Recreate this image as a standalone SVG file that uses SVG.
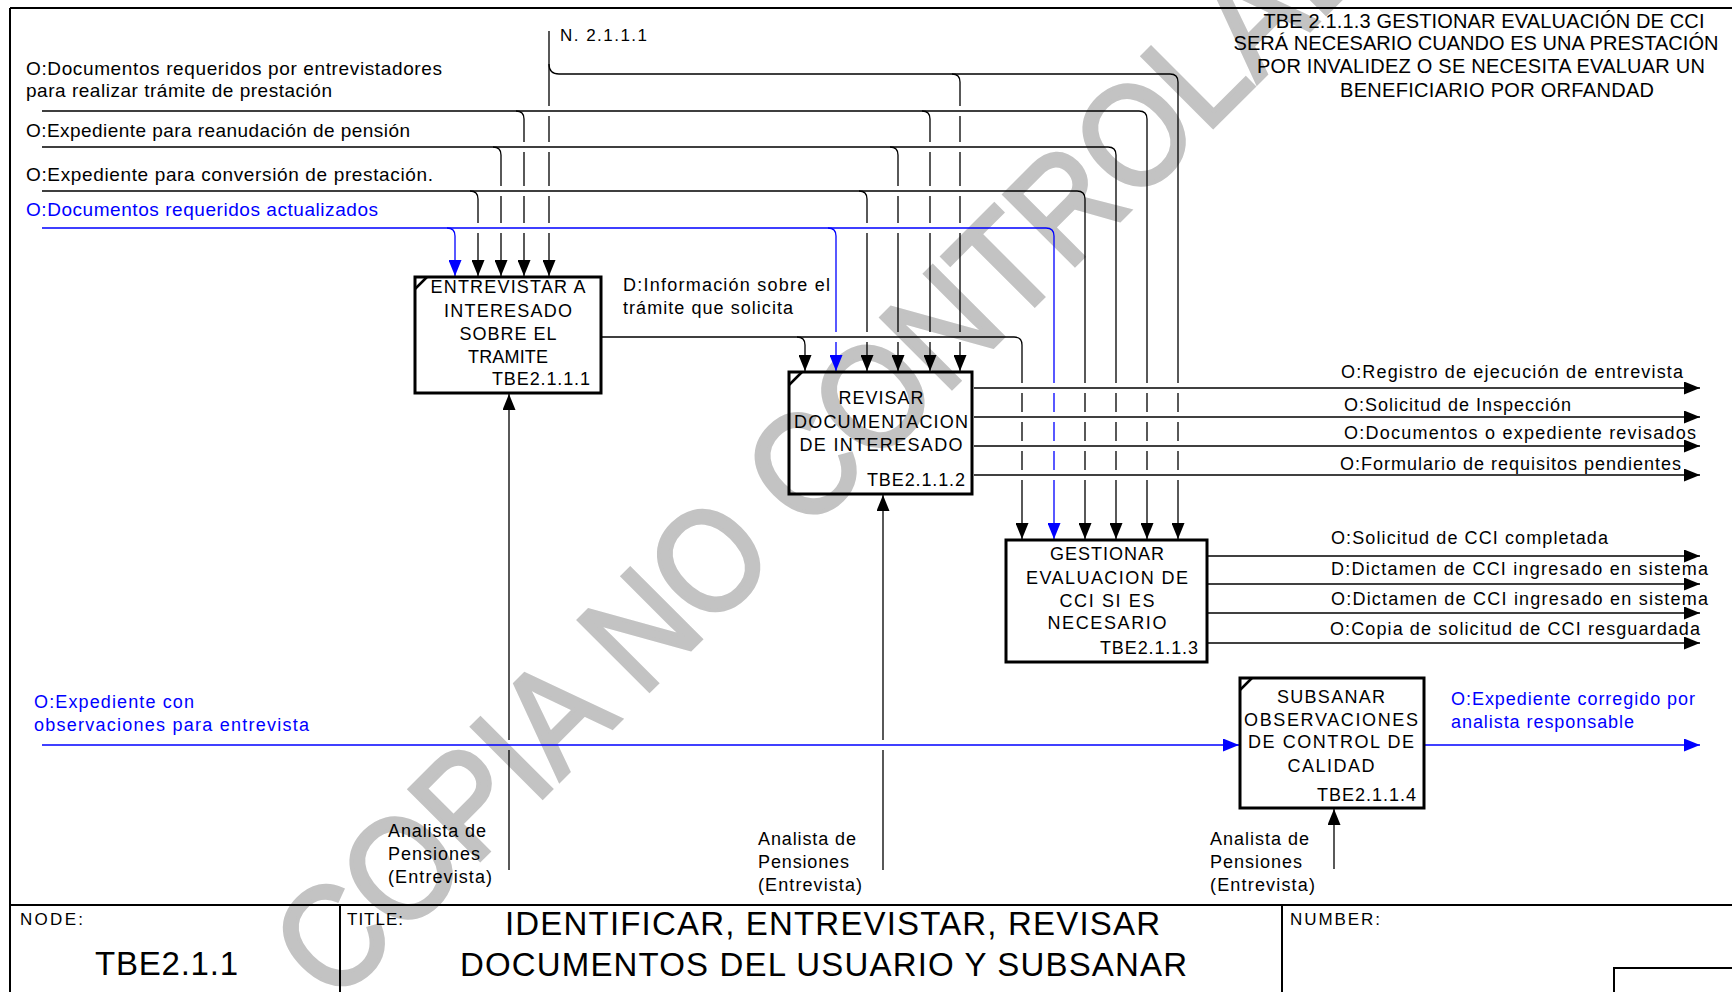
<svg xmlns="http://www.w3.org/2000/svg" width="1732" height="992" viewBox="0 0 1732 992">
<defs>
<style>
text{font-family:"Liberation Sans",Arial,sans-serif;fill:#000;lengthAdjust:spacing}
.lbl{font-size:19px}
.ol{font-size:18px}
.bx{font-size:18px;text-anchor:middle}
.bxr{font-size:18px;text-anchor:end}
.mech{font-size:18px}
.blue{fill:#0000ff}
.note{font-size:20px;text-anchor:middle}
.tb{font-size:17px}
.big{font-size:33px}
.wm{font-size:145px;fill:#c3c3c3;stroke:#c3c3c3;stroke-width:4}
.c{fill:none;stroke:#000;stroke-width:1.3}
.cb{fill:none;stroke:#0000ff;stroke-width:1.3}
.box{fill:none;stroke:#000;stroke-width:3}
.tick{stroke:#000;stroke-width:2.5}
.frame{fill:none;stroke:#000;stroke-width:2}
</style>
<marker id="ah" markerUnits="userSpaceOnUse" markerWidth="16" markerHeight="13" viewBox="0 0 16 13" refX="16" refY="6.5" orient="auto"><path d="M0,0 L16,6.5 L0,13 z" fill="#000"/></marker>
<marker id="ahb" markerUnits="userSpaceOnUse" markerWidth="16" markerHeight="13" viewBox="0 0 16 13" refX="16" refY="6.5" orient="auto"><path d="M0,0 L16,6.5 L0,13 z" fill="#0000ff"/></marker>
</defs>
<rect width="1732" height="992" fill="#fff"/>
<text class="wm" x="0" y="0" transform="translate(334 1006) rotate(-45) scale(0.9 1)">COPIA NO CONTROLADA</text>

<g id="frame">
<path class="frame" d="M10,8 H1732 M10,8 V992"/>
<path class="frame" d="M10,905 H1732 M340,905 V992 M1282,905 V992" stroke-width="1.5"/>
<rect class="frame" x="1614" y="968" width="200" height="60" stroke-width="1.5"/>
<text class="tb" x="20" y="925" textLength="63">NODE:</text>
<text class="big" x="95" y="975" font-size="32" textLength="143">TBE2.1.1</text>
<text class="tb" x="347" y="925" textLength="56">TITLE:</text>
<text class="big" x="505" y="935" textLength="655">IDENTIFICAR, ENTREVISTAR, REVISAR</text>
<text class="big" x="460" y="976" textLength="727">DOCUMENTOS DEL USUARIO Y SUBSANAR</text>
<text class="tb" x="1290" y="925" textLength="90">NUMBER:</text>
</g>

<g id="note">
<text class="note" x="1484" y="28" textLength="441">TBE 2.1.1.3 GESTIONAR EVALUACIÓN DE CCI</text>
<text class="note" x="1476" y="50" textLength="485">SERÁ NECESARIO CUANDO ES UNA PRESTACIÓN</text>
<text class="note" x="1481" y="73" textLength="448">POR INVALIDEZ O SE NECESITA EVALUAR UN</text>
<text class="note" x="1497" y="97" textLength="314">BENEFICIARIO POR ORFANDAD</text>
</g>

<g id="connectors">
<!-- N. 2.1.1.1 -->
<path class="c" marker-end="url(#ah)" d="M549,31 V106 M549,116 V142 M549,152 V186 M549,196 V223 M549,233 V276"/>
<path class="c" marker-end="url(#ah)" d="M549,64 Q549,74 559,74 H1170 Q1178,74 1178,82 V383 M1178,393 V412 M1178,422 V441 M1178,451 V470 M1178,480 V539"/>
<path class="c" marker-end="url(#ah)" d="M952,74 Q960,74 960,82 V106 M960,116 V142 M960,152 V186 M960,196 V223 M960,233 V332 M960,342 V371"/>
<!-- L1 -->
<path class="c" marker-end="url(#ah)" d="M42,111 H1139 Q1147,111 1147,119 V383 M1147,393 V412 M1147,422 V441 M1147,451 V470 M1147,480 V539"/>
<path class="c" marker-end="url(#ah)" d="M516,111 Q524,111 524,119 V142 M524,152 V186 M524,196 V223 M524,233 V276"/>
<path class="c" marker-end="url(#ah)" d="M922,111 Q930,111 930,119 V142 M930,152 V186 M930,196 V223 M930,233 V332 M930,342 V371"/>
<!-- L2 -->
<path class="c" marker-end="url(#ah)" d="M42,147 H1108 Q1116,147 1116,155 V383 M1116,393 V412 M1116,422 V441 M1116,451 V470 M1116,480 V539"/>
<path class="c" marker-end="url(#ah)" d="M493,147 Q501,147 501,155 V186 M501,196 V223 M501,233 V276"/>
<path class="c" marker-end="url(#ah)" d="M890,147 Q898,147 898,155 V186 M898,196 V223 M898,233 V332 M898,342 V371"/>
<!-- L3 -->
<path class="c" marker-end="url(#ah)" d="M42,191 H1077 Q1085,191 1085,199 V383 M1085,393 V412 M1085,422 V441 M1085,451 V470 M1085,480 V539"/>
<path class="c" marker-end="url(#ah)" d="M470,191 Q478,191 478,199 V223 M478,233 V276"/>
<path class="c" marker-end="url(#ah)" d="M859,191 Q867,191 867,199 V223 M867,233 V332 M867,342 V371"/>
<!-- L4 blue -->
<path class="cb" marker-end="url(#ahb)" d="M42,228 H1046 Q1054,228 1054,236 V383 M1054,393 V412 M1054,422 V441 M1054,451 V470 M1054,480 V539"/>
<path class="cb" marker-end="url(#ahb)" d="M447,228 Q455,228 455,236 V276"/>
<path class="cb" marker-end="url(#ahb)" d="M828,228 Q836,228 836,236 V332 M836,342 V371"/>
<!-- D line -->
<path class="c" marker-end="url(#ah)" d="M602,337 H1014 Q1022,337 1022,345 V383 M1022,393 V412 M1022,422 V441 M1022,451 V470 M1022,480 V539"/>
<path class="c" marker-end="url(#ah)" d="M797,337 Q805,337 805,345 V371"/>
<!-- box2 outputs -->
<path class="c" marker-end="url(#ah)" d="M974,388 H1700"/>
<path class="c" marker-end="url(#ah)" d="M974,417 H1700"/>
<path class="c" marker-end="url(#ah)" d="M974,446 H1700"/>
<path class="c" marker-end="url(#ah)" d="M974,475 H1700"/>
<!-- box3 outputs -->
<path class="c" marker-end="url(#ah)" d="M1208,556 H1700"/>
<path class="c" marker-end="url(#ah)" d="M1208,584 H1700"/>
<path class="c" marker-end="url(#ah)" d="M1208,613 H1700"/>
<path class="c" marker-end="url(#ah)" d="M1208,643 H1700"/>
<!-- blue line to box4 -->
<path class="cb" stroke-width="2" marker-end="url(#ahb)" d="M42,745 H1239"/>
<path class="cb" stroke-width="2" marker-end="url(#ahb)" d="M1425,745 H1700"/>
<!-- mechanisms -->
<path class="c" marker-end="url(#ah)" d="M509,870 V750 M509,740 V394"/>
<path class="c" marker-end="url(#ah)" d="M883,870 V750 M883,740 V495"/>
<path class="c" marker-end="url(#ah)" d="M1334,869 V809"/>
</g>

<g id="labels">
<text x="560" y="41" font-size="17" textLength="87">N. 2.1.1.1</text>
<text class="lbl" x="26" y="75" textLength="416">O:Documentos requeridos por entrevistadores</text>
<text class="lbl" x="26" y="97" textLength="306">para realizar trámite de prestación</text>
<text class="lbl" x="26" y="137" textLength="384">O:Expediente para reanudación de pensión</text>
<text class="lbl" x="26" y="181" textLength="407">O:Expediente para conversión de prestación.</text>
<text class="lbl blue" x="26" y="216" textLength="352">O:Documentos requeridos actualizados</text>
<text class="ol" x="623" y="291" textLength="207">D:Información sobre el</text>
<text class="ol" x="623" y="314" textLength="170">trámite que solicita</text>
<text class="ol" x="1341" y="378" textLength="342">O:Registro de ejecución de entrevista</text>
<text class="ol" x="1344" y="411" textLength="227">O:Solicitud de Inspección</text>
<text class="ol" x="1344" y="439" textLength="352">O:Documentos o expediente revisados</text>
<text class="ol" x="1340" y="470" textLength="341">O:Formulario de requisitos pendientes</text>
<text class="ol" x="1331" y="544" textLength="277">O:Solicitud de CCI completada</text>
<text class="ol" x="1331" y="575" textLength="377">D:Dictamen de CCI ingresado en sistema</text>
<text class="ol" x="1331" y="605" textLength="377">O:Dictamen de CCI ingresado en sistema</text>
<text class="ol" x="1330" y="635" textLength="370">O:Copia de solicitud de CCI resguardada</text>
<text class="ol blue" x="34" y="708" textLength="160">O:Expediente con</text>
<text class="ol blue" x="34" y="731" textLength="275">observaciones para entrevista</text>
<text class="ol blue" x="1451" y="705" textLength="244">O:Expediente corregido por</text>
<text class="ol blue" x="1451" y="728" textLength="183">analista responsable</text>
<text class="mech" x="388" y="837" textLength="98">Analista de</text>
<text class="mech" x="388" y="860" textLength="92">Pensiones</text>
<text class="mech" x="388" y="883" textLength="104">(Entrevista)</text>
<text class="mech" x="758" y="845" textLength="98">Analista de</text>
<text class="mech" x="758" y="868" textLength="91">Pensiones</text>
<text class="mech" x="758" y="891" textLength="104">(Entrevista)</text>
<text class="mech" x="1210" y="845" textLength="99">Analista de</text>
<text class="mech" x="1210" y="868" textLength="92">Pensiones</text>
<text class="mech" x="1210" y="891" textLength="105">(Entrevista)</text>
</g>

<g id="node-TBE2.1.1.1">
<rect class="box" x="415" y="277" width="186" height="116"/>
<path class="tick" d="M415,289 L427,277"/>
<text class="bx" x="508" y="293" textLength="155">ENTREVISTAR A</text>
<text class="bx" x="508" y="317" textLength="128">INTERESADO</text>
<text class="bx" x="508" y="340" textLength="97">SOBRE EL</text>
<text class="bx" x="508" y="363" textLength="80">TRAMITE</text>
<text class="bxr" x="590" y="385" textLength="98">TBE2.1.1.1</text>
</g>

<g id="node-TBE2.1.1.2">
<rect class="box" x="789" y="372" width="183" height="122"/>
<path class="tick" d="M789,385 L802,372"/>
<text class="bx" x="881" y="404" textLength="85">REVISAR</text>
<text class="bx" x="881" y="428" textLength="174">DOCUMENTACION</text>
<text class="bx" x="881" y="451" textLength="163">DE INTERESADO</text>
<text class="bxr" x="965" y="486" textLength="98">TBE2.1.1.2</text>
</g>

<g id="node-TBE2.1.1.3">
<rect class="box" x="1006" y="540" width="201" height="122"/>
<text class="bx" x="1107" y="560" textLength="114">GESTIONAR</text>
<text class="bx" x="1107" y="584" textLength="162">EVALUACION DE</text>
<text class="bx" x="1107" y="607" textLength="95">CCI SI ES</text>
<text class="bx" x="1107" y="629" textLength="119">NECESARIO</text>
<text class="bxr" x="1198" y="654" textLength="98">TBE2.1.1.3</text>
</g>

<g id="node-TBE2.1.1.4">
<rect class="box" x="1240" y="678" width="184" height="130"/>
<path class="tick" d="M1240,690 L1252,678"/>
<text class="bx" x="1331" y="703" textLength="108">SUBSANAR</text>
<text class="bx" x="1331" y="726" textLength="174">OBSERVACIONES</text>
<text class="bx" x="1331" y="748" textLength="166">DE CONTROL DE</text>
<text class="bx" x="1331" y="772" textLength="87">CALIDAD</text>
<text class="bxr" x="1416" y="801" textLength="99">TBE2.1.1.4</text>
</g>
</svg>
